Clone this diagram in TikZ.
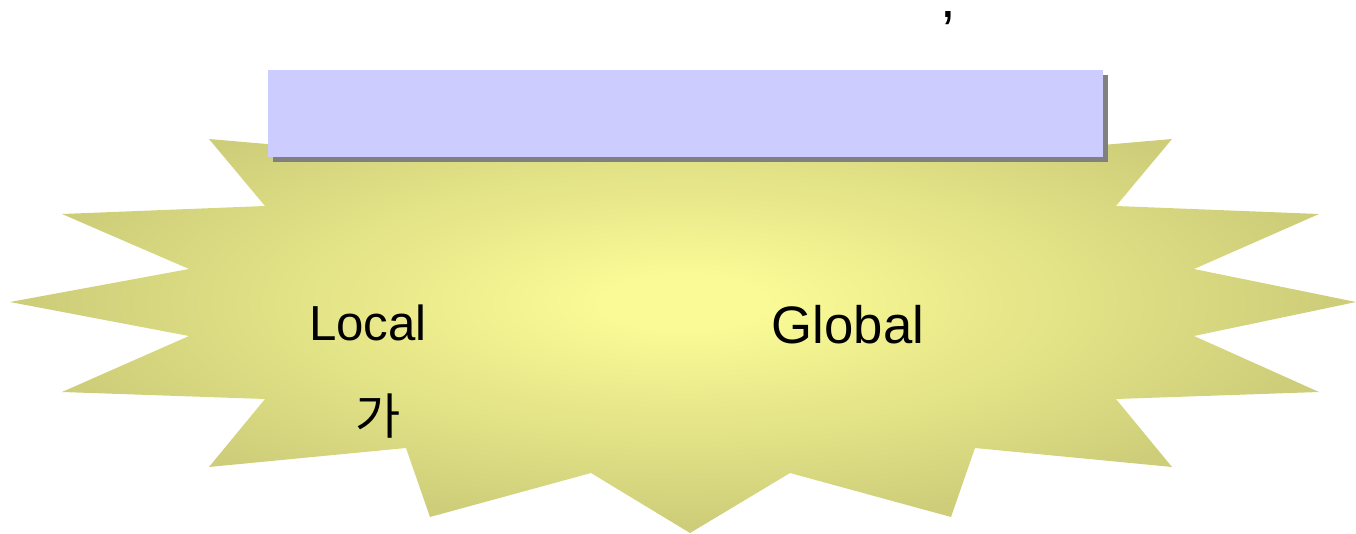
\documentclass[tikz,border=0pt]{standalone}
\usepackage{fontspec}
\setmainfont{Liberation Sans}
\newfontfamily\hangul{Noto Sans CJK KR}
\usetikzlibrary{shadows}
\definecolor{burstcore}{RGB}{250,250,150}
\definecolor{burstrim}{RGB}{206,206,122}
\definecolor{bannerblue}{RGB}{204,204,255}
\pgfdeclareradialshading{burst}{\pgfpoint{0bp}{0bp}}{color(0bp)=(burstcore); color(3bp)=(burstcore); color(24bp)=(burstrim); color(50bp)=(burstrim)}

\begin{document}
\begin{tikzpicture}[
    x=0.02cm, y=-0.02cm,
    banner/.style={rectangle, fill=bannerblue, inner sep=0pt,
                   minimum width=16.7cm, minimum height=1.74cm,
                   drop shadow={shadow xshift=0.1cm, shadow yshift=-0.1cm, fill=gray, opacity=1}},
    word/.style={inner sep=0pt, font=\fontsize{#1}{#1}\selectfont},
    word/.default=28,
]
\useasboundingbox (0,0) rectangle (1356,534);

% Starburst
\shade[shading=burst]
    (209,139) -- (265,206) -- (62,214) -- (189,269) -- (10,302) -- (189,336)
    -- (62,392) -- (265,399) -- (209,467) -- (406,448) -- (430,517) -- (591,473)
    -- (690,533) -- (790,473) -- (951,517) -- (975,448) -- (1172,467) -- (1116,399)
    -- (1319,392) -- (1194,336) -- (1356,302) -- (1194,269) -- (1319,214) -- (1116,206)
    -- (1172,139) -- (975,156) -- (951,87) -- (790,131) -- (690,71) -- (591,131)
    -- (430,87) -- (406,156) -- cycle;

% Banner
\node[banner] (title) at (685.5,113.5) {};

% Labels
\node[word=32] (comma) at (948,18) {,};
\node[word] (local) at (368,323) {Local};
\node[word] (ga) at (378,416) {\hangul 가};
\node[word=30] (global) at (848,325) {Global};

\end{tikzpicture}
\end{document}
